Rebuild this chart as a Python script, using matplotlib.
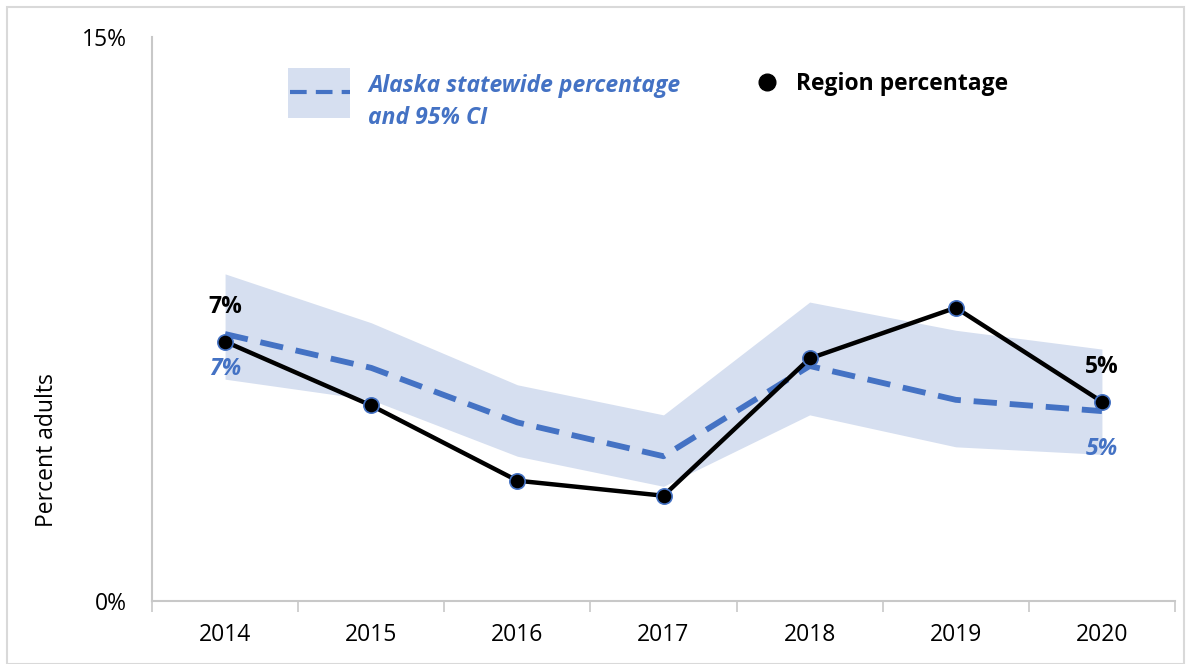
import numpy as np
import matplotlib.pyplot as plt
from matplotlib.patches import Rectangle
from matplotlib.lines import Line2D

plt.rcParams['font.family'] = ['Open Sans', 'DejaVu Sans']

years = ['2014', '2015', '2016', '2017', '2018', '2019', '2020']
region_pct = [6.9, 5.2, 3.2, 2.8, 6.45, 7.8, 5.3]
state_pct = [7.1, 6.2, 4.75, 3.85, 6.25, 5.35, 5.05]
state_upper = [8.7, 7.4, 5.75, 4.95, 7.95, 7.2, 6.7]
state_lower = [5.9, 5.35, 3.85, 3.05, 4.95, 4.1, 3.9]

blue = '#4472c4'
band = '#d6dff0'
grey = '#c8c8c8'
fs = 16.5

fig = plt.figure(figsize=(11.91, 6.64), dpi=100)
ax = fig.add_axes([152/1191, 1-601/664, (1175-152)/1191, (601-37)/664])

x = np.arange(len(years))

ax.fill_between(x, state_lower, state_upper, color=band, lw=0, zorder=1)
ax.plot(x, state_pct, color=blue, lw=4.2, dashes=(4, 2.2), zorder=2)
ax.plot(x, region_pct, color='black', lw=3.2, zorder=3)
ax.plot(x, region_pct, 'o', ms=11, color='black', mec=blue, mew=1.2, zorder=4)

ax.set_xlim(-0.5, len(years) - 0.5)
ax.set_ylim(0, 15)
ax.set_xticks(x)
ax.set_xticklabels(years, fontsize=fs)
ax.set_xticks(np.arange(-0.5, len(years)), minor=True)
ax.tick_params(axis='x', which='major', length=0, pad=16)
ax.tick_params(axis='x', which='minor', length=8, color=grey, width=1.2)
ax.set_yticks([0, 15])
ax.set_yticklabels(['0%', '15%'], fontsize=fs)
ax.tick_params(axis='y', length=0, pad=18)
for s in ['top', 'right']:
    ax.spines[s].set_visible(False)
for s in ['left', 'bottom']:
    ax.spines[s].set_color(grey)
    ax.spines[s].set_linewidth(1.5)

fig.text(47/1191, 1-450/664, 'Percent adults', rotation=90, ha='center', va='center', fontsize=fs)

# value labels
first, last = 0, len(years) - 1
ax.annotate('7%', (x[first], region_pct[first]), xytext=(0, 25), textcoords='offset points',
            ha='center', va='center', fontsize=fs, fontweight='bold')
ax.annotate('7%', (x[first], state_pct[first]), xytext=(0, -25), textcoords='offset points',
            ha='center', va='center', fontsize=fs, fontweight='bold', style='italic', color=blue)
ax.annotate('5%', (x[last], region_pct[last]), xytext=(0, 25), textcoords='offset points',
            ha='center', va='center', fontsize=fs, fontweight='bold')
ax.annotate('5%', (x[last], state_pct[last]), xytext=(0, -27), textcoords='offset points',
            ha='center', va='center', fontsize=fs, fontweight='bold', style='italic', color=blue)

# legend drawn by hand
fig.patches.append(Rectangle((288/1191, 1-118/664), 62/1191, 50/664, transform=fig.transFigure,
                             color=band, lw=0))
fig.lines.append(Line2D([290/1191, 350/1191], [1-92/664, 1-92/664], transform=fig.transFigure,
                        color=blue, lw=3, dashes=(4, 2.2)))
fig.text(368/1191, 1-86/664, 'Alaska statewide percentage', fontsize=fs, fontweight='bold',
         style='italic', color=blue, va='center')
fig.text(368/1191, 1-118/664, 'and 95% CI', fontsize=fs, fontweight='bold',
         style='italic', color=blue, va='center')
fig.lines.append(Line2D([767/1191], [1-82/664], transform=fig.transFigure, marker='o', ms=12,
                        color='black', lw=0))
fig.text(796/1191, 1-84/664, 'Region percentage', fontsize=fs, fontweight='bold', va='center')

# outer frame
fig.patches.append(Rectangle((7/1191, 0), 1-14/1191, 1-7/664, transform=fig.transFigure,
                             fill=False, ec='#d9d9d9', lw=1.5))

fig.savefig('out.png', dpi=100)
